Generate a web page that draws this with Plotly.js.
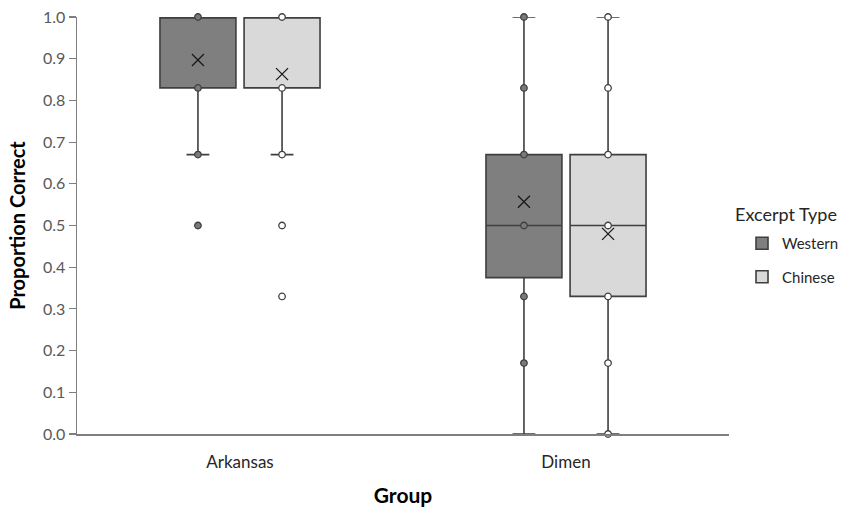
<!DOCTYPE html>
<html>
<head>
<meta charset="utf-8">
<script src="https://cdn.plot.ly/plotly-3.0.1.min.js"></script>
<style>html,body{margin:0;padding:0;background:#fff;}#chart{width:841px;height:511px;}</style>
</head>
<body>
<div id="chart"></div>
<script>
// ---- data ----
const groups = ['Arkansas', 'Dimen'];
const seriesNames = ['Western', 'Chinese'];

const westernQ1 = [0.83, 0.375];
const westernMedian = [1.0, 0.5];
const westernQ3 = [1.0, 0.67];
const westernLower = [0.67, 0.0];
const westernUpper = [1.0, 1.0];
const westernMean = [0.897, 0.557];
const westernPoints = [[1.0, 0.83, 0.67, 0.5], [1.0, 0.83, 0.67, 0.5, 0.33, 0.17]];

const chineseQ1 = [0.83, 0.33];
const chineseMedian = [1.0, 0.5];
const chineseQ3 = [1.0, 0.67];
const chineseLower = [0.67, 0.0];
const chineseUpper = [1.0, 1.0];
const chineseMean = [0.863, 0.48];
const chinesePoints = [[1.0, 0.83, 0.67, 0.5, 0.33], [1.0, 0.83, 0.67, 0.5, 0.33, 0.17, 0.0]];

const yTicks = [0, 0.1, 0.2, 0.3, 0.4, 0.5, 0.6, 0.7, 0.8, 0.9, 1.0];
const legendTitle = 'Excerpt Type';

// ---- styling ----
const FONT = 'Lato, "Open Sans", sans-serif';
const OFFSET = 0.129;   // half spacing between the two boxes of a group (axis units)
const BOXW = 0.233;     // box width (axis units)
const styles = [
  {fill: '#7f7f7f', pt: '#7a7a7a'},
  {fill: '#d9d9d9', pt: '#ffffff'}
];
const stats = [
  {q1: westernQ1, med: westernMedian, q3: westernQ3, lo: westernLower, hi: westernUpper, mean: westernMean, pts: westernPoints},
  {q1: chineseQ1, med: chineseMedian, q3: chineseQ3, lo: chineseLower, hi: chineseUpper, mean: chineseMean, pts: chinesePoints}
];

const traces = [];
seriesNames.forEach((name, s) => {
  const off = (s === 0 ? -OFFSET : OFFSET);
  const pos = groups.map((g, i) => i + off);
  const st = stats[s];
  traces.push({
    type: 'box', name: name, legendgroup: name, orientation: 'v',
    x: pos, q1: st.q1, median: st.med, q3: st.q3,
    lowerfence: st.lo, upperfence: st.hi,
    width: BOXW, whiskerwidth: 0.3, boxpoints: false,
    fillcolor: styles[s].fill,
    line: {color: '#3f3f3f', width: 1.6},
    hoverinfo: 'skip'
  });
});
// sample points
seriesNames.forEach((name, s) => {
  const off = (s === 0 ? -OFFSET : OFFSET);
  const xs = [], ys = [];
  stats[s].pts.forEach((arr, i) => arr.forEach(v => { xs.push(i + off); ys.push(v); }));
  traces.push({
    type: 'scatter', mode: 'markers', x: xs, y: ys, showlegend: false, cliponaxis: false,
    marker: {size: 6.5, color: styles[s].pt, line: {color: '#3f3f3f', width: 1.3}},
    hoverinfo: 'skip'
  });
});
// mean markers
seriesNames.forEach((name, s) => {
  const off = (s === 0 ? -OFFSET : OFFSET);
  traces.push({
    type: 'scatter', mode: 'markers', x: groups.map((g, i) => i + off), y: stats[s].mean,
    showlegend: false, cliponaxis: false,
    marker: {symbol: 'x-thin-open', size: 12, color: '#1a1a1a', line: {color: '#1a1a1a', width: 1.3}},
    hoverinfo: 'skip'
  });
});

const layout = {
  width: 841, height: 511,
  margin: {l: 77, r: 112, t: 17, b: 77, autoexpand: false},
  paper_bgcolor: '#ffffff', plot_bgcolor: '#ffffff',
  font: {family: FONT, size: 15, color: '#262626'},
  showlegend: true,
  xaxis: {
    range: [-0.5, 1.5], tickmode: 'array', tickvals: groups.map((g, i) => i), ticktext: groups,
    showgrid: false, zeroline: false, showline: true, linecolor: '#7f7f7f', linewidth: 1.5,
    ticks: '', ticklabelstandoff: 12, tickfont: {family: FONT, size: 17, color: '#262626'},
    title: {text: '<b>Group</b>', font: {family: FONT, size: 21, color: '#000'}, standoff: 17},
    fixedrange: true
  },
  yaxis: {
    range: [0, 1], tickmode: 'array', tickvals: yTicks, ticktext: yTicks.map(v => v.toFixed(1)),
    showgrid: false, zeroline: false, showline: true, linecolor: '#7f7f7f', linewidth: 1.5,
    ticks: 'outside', ticklen: 7, tickcolor: '#7f7f7f', tickwidth: 1.2,
    tickfont: {family: FONT, size: 16, color: '#595959'},
    title: {text: '<b>Proportion Correct</b>', font: {family: FONT, size: 20, color: '#000'}, standoff: 12},
    fixedrange: true
  },
  legend: {
    xref: 'container', yref: 'container',
    x: 0.8823, xanchor: 'left', y: 0.5558, yanchor: 'top',
    bgcolor: 'rgba(0,0,0,0)', tracegroupgap: 11,
    font: {family: FONT, size: 15, color: '#262626'}
  },
  annotations: [{
    text: legendTitle, xref: 'paper', yref: 'paper', x: 1.006, y: 0.5276,
    xanchor: 'left', yanchor: 'middle', showarrow: false,
    font: {family: FONT, size: 18, color: '#262626'}
  }]
};

Plotly.newPlot('chart', traces, layout, {displayModeBar: false, staticPlot: true});
</script>
</body>
</html>
